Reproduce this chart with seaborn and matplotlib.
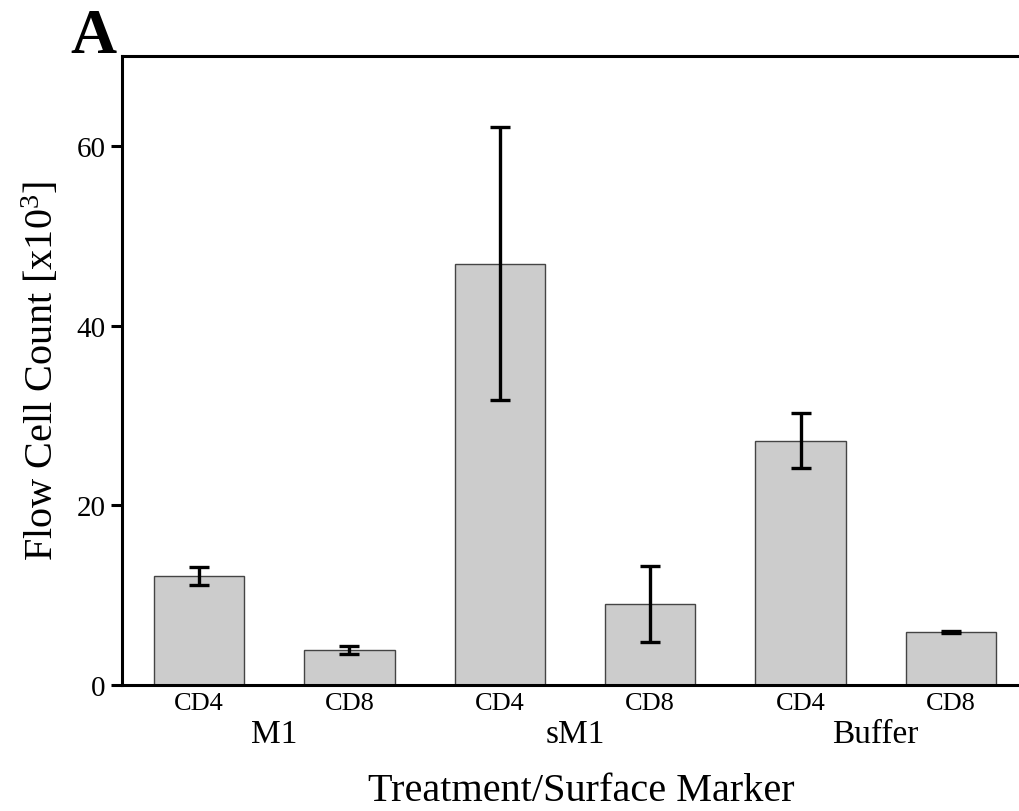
import pandas as pd
import matplotlib
matplotlib.use("Agg")
import matplotlib.pyplot as plt
import matplotlib.transforms as mtransforms
import seaborn as sns

# valors llegits del gràfic original
treatments = ["M1", "M1", "sM1", "sM1", "Buffer", "Buffer"]
markers = ["CD4", "CD8", "CD4", "CD8", "CD4", "CD8"]
counts = [12.1, 3.9, 46.9, 9.0, 27.1, 5.9]
err_low = [11.1, 3.5, 31.7, 4.8, 24.1, 5.75]
err_high = [13.1, 4.3, 62.1, 13.2, 30.3, 6.05]
group_names = ["M1", "sM1", "Buffer"]
yticks = [0, 20, 40, 60]

df = pd.DataFrame({"treatment": treatments, "marker": markers, "count": counts})
df["pos"] = [f"{t}_{m}" for t, m in zip(treatments, markers)]

sns.set_theme(style="ticks", rc={"text.color": "black", "axes.labelcolor": "black",
                                 "xtick.color": "black", "ytick.color": "black",
                                 "axes.edgecolor": "black"})
plt.rcParams["font.family"] = ["Liberation Serif", "DejaVu Serif"]
plt.rcParams["mathtext.fontset"] = "custom"
plt.rcParams["mathtext.rm"] = "Liberation Serif"
plt.rcParams["mathtext.it"] = "Liberation Serif:italic"

fig = plt.figure(figsize=(10.19, 8.12), dpi=100)
ax = fig.add_axes([122 / 1019, 1 - 686 / 812, 1 - 122 / 1019, (686 - 57) / 812])

sns.barplot(data=df, x="pos", y="count", color="#cccccc", edgecolor="#444444",
            linewidth=1.0, width=0.6, errorbar=None, saturation=1, ax=ax)

yerr = [[c - lo for c, lo in zip(counts, err_low)],
        [hi - c for c, hi in zip(counts, err_high)]]
ax.errorbar(range(len(counts)), counts, yerr=yerr, fmt="none", ecolor="black",
            elinewidth=2.4, capsize=7.5, capthick=2.4, zorder=5)

ax.set_xlim(-0.513, 5.453)
ax.set_ylim(0, 70)
ax.set_yticks(yticks)
ax.set_xticks(range(len(markers)))
ax.set_xticklabels(markers, fontsize=19)
ax.tick_params(axis="x", length=0, pad=5)
ax.tick_params(axis="y", length=8, width=2.2, labelsize=21, pad=4)
for s in ["left", "bottom", "top"]:
    ax.spines[s].set_linewidth(2.2)
ax.spines["right"].set_visible(False)

# etiquetes dels tractaments sota les marques
trans = mtransforms.blended_transform_factory(ax.transData, ax.transAxes)
for i, g in enumerate(group_names):
    ax.text(2 * i + 0.5, -0.078, g, transform=trans, ha="center", va="center", fontsize=24)

ax.set_xlabel("Treatment/Surface Marker", fontsize=29)
ax.xaxis.set_label_coords(0.512, -0.138)
ax.xaxis.label.set_va("top")
ax.set_ylabel("Flow Cell Count [x10$^3$]", fontsize=29, labelpad=10)

fig.text(70 / 1019, 1 - 53 / 812, "A", fontsize=46, fontweight="bold", va="baseline", ha="left")

fig.savefig("out.png", dpi=100)
